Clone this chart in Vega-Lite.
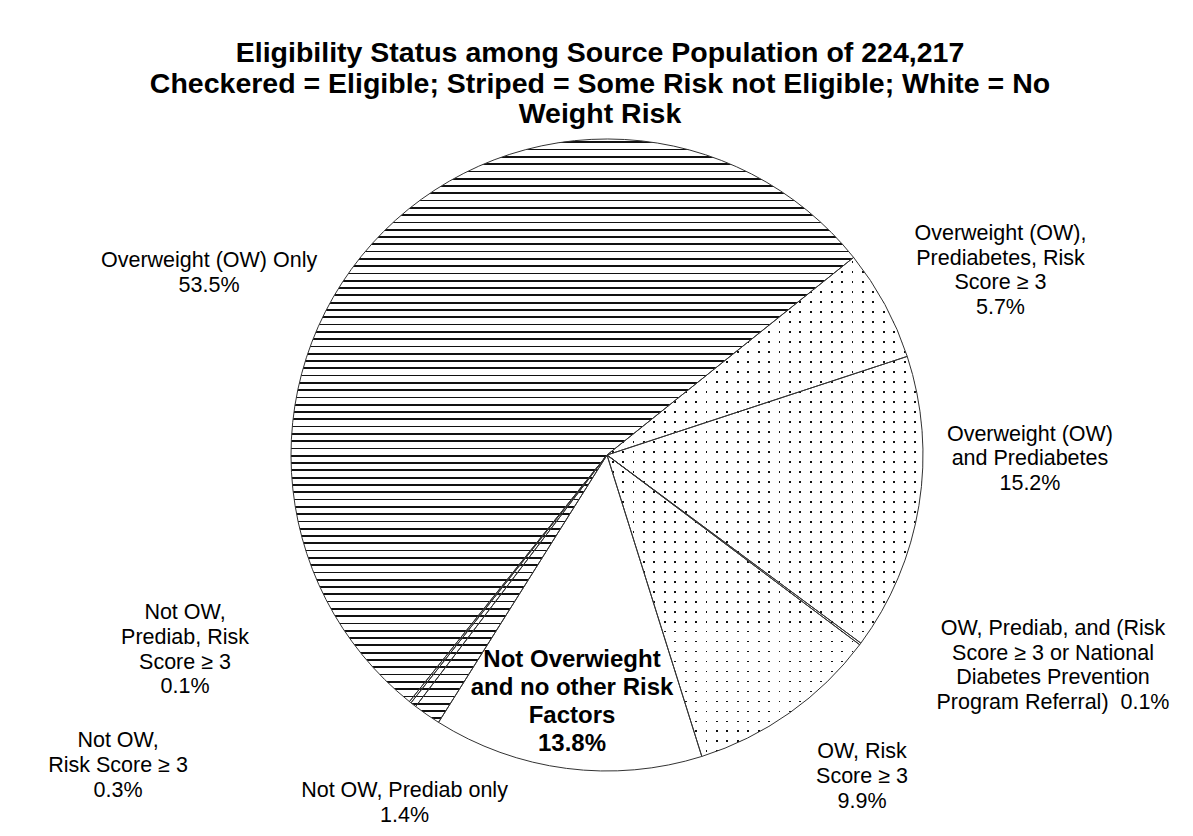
{
  "$schema": "https://vega.github.io/schema/vega-lite/v6.json",
  "width": 632,
  "height": 632,
  "autosize": {"type": "none"},
  "padding": {"left": 291, "top": 139, "right": 270, "bottom": 65},
  "background": "#ffffff",
  "config": {"view": {"stroke": null}, "font": "Liberation Sans"},
  "title": {
    "text": ["Eligibility Status among Source Population of 224,217", "Checkered = Eligible; Striped = Some Risk not Eligible; White = No", "Weight Risk"],
    "font": "Liberation Sans",
    "fontSize": 28.5,
    "fontWeight": "bold",
    "lineHeight": 30.5,
    "color": "#000000",
    "anchor": "middle",
    "offset": 3,
    "dx": -7
  },
  "data": {
    "values": [
      {"idx": 1, "slice": "Overweight (OW), Prediabetes, Risk Score ≥ 3", "pct": 5.7, "group": "Eligible", "label": "Overweight (OW),\nPrediabetes, Risk\nScore ≥ 3\n5.7%"},
      {"idx": 2, "slice": "Overweight (OW) and Prediabetes", "pct": 15.2, "group": "Eligible", "label": "Overweight (OW)\nand Prediabetes\n15.2%"},
      {"idx": 3, "slice": "OW, Prediab, and (Risk Score ≥ 3 or National Diabetes Prevention Program Referral)", "pct": 0.1, "group": "Eligible", "label": "OW, Prediab, and (Risk\nScore ≥ 3 or National\nDiabetes Prevention\nProgram Referral)\u00a0 0.1%"},
      {"idx": 4, "slice": "OW, Risk Score ≥ 3", "pct": 9.9, "group": "Eligible", "label": "OW, Risk\nScore ≥ 3\n9.9%"},
      {"idx": 5, "slice": "Not Overwieght and no other Risk Factors", "pct": 13.8, "group": "No Weight Risk", "label": "Not Overwieght\nand no other Risk\nFactors\n13.8%"},
      {"idx": 6, "slice": "Not OW, Prediab only", "pct": 1.4, "group": "Some Risk not Eligible", "label": "Not OW, Prediab only\n1.4%"},
      {"idx": 7, "slice": "Not OW, Risk Score ≥ 3", "pct": 0.3, "group": "Some Risk not Eligible", "label": "Not OW,\nRisk Score ≥ 3\n0.3%"},
      {"idx": 8, "slice": "Not OW, Prediab, Risk Score ≥ 3", "pct": 0.1, "group": "Some Risk not Eligible", "label": "Not OW,\nPrediab, Risk\nScore ≥ 3\n0.1%"},
      {"idx": 9, "slice": "Overweight (OW) Only", "pct": 53.5, "group": "Some Risk not Eligible", "label": "Overweight (OW) Only\n53.5%"}
    ]
  },
  "encoding": {
    "theta": {"field": "pct", "type": "quantitative", "stack": true, "scale": {"range": [0.89535, 7.17854]}},
    "order": {"field": "idx", "type": "quantitative"}
  },
  "layer": [
    {
      "transform": [{"aggregate": [{"op": "sum", "field": "pct", "as": "pct"}, {"op": "min", "field": "idx", "as": "idx"}], "groupby": ["group"]}],
      "mark": {"type": "arc", "outerRadius": 316, "strokeWidth": 0},
      "encoding": {
        "fill": {
          "condition": [
            {"test": "datum.group === 'Some Risk not Eligible'", "value": {"gradient": "linear", "x1": 0, "y1": 0, "x2": 0, "y2": 1, "stops": [
              {"offset":0.004,"color":"#fff"},{"offset":0.004,"color":"#111"},{"offset":0.007,"color":"#111"},{"offset":0.007,"color":"#fff"},
              {"offset":0.0165,"color":"#fff"},{"offset":0.0165,"color":"#111"},{"offset":0.0195,"color":"#111"},{"offset":0.0195,"color":"#fff"},
              {"offset":0.029,"color":"#fff"},{"offset":0.029,"color":"#111"},{"offset":0.032,"color":"#111"},{"offset":0.032,"color":"#fff"},
              {"offset":0.0415,"color":"#fff"},{"offset":0.0415,"color":"#111"},{"offset":0.0445,"color":"#111"},{"offset":0.0445,"color":"#fff"},
              {"offset":0.054,"color":"#fff"},{"offset":0.054,"color":"#111"},{"offset":0.057,"color":"#111"},{"offset":0.057,"color":"#fff"},
              {"offset":0.0665,"color":"#fff"},{"offset":0.0665,"color":"#111"},{"offset":0.0695,"color":"#111"},{"offset":0.0695,"color":"#fff"},
              {"offset":0.079,"color":"#fff"},{"offset":0.079,"color":"#111"},{"offset":0.082,"color":"#111"},{"offset":0.082,"color":"#fff"},
              {"offset":0.0915,"color":"#fff"},{"offset":0.0915,"color":"#111"},{"offset":0.0945,"color":"#111"},{"offset":0.0945,"color":"#fff"},
              {"offset":0.104,"color":"#fff"},{"offset":0.104,"color":"#111"},{"offset":0.107,"color":"#111"},{"offset":0.107,"color":"#fff"},
              {"offset":0.1165,"color":"#fff"},{"offset":0.1165,"color":"#111"},{"offset":0.1195,"color":"#111"},{"offset":0.1195,"color":"#fff"},
              {"offset":0.129,"color":"#fff"},{"offset":0.129,"color":"#111"},{"offset":0.132,"color":"#111"},{"offset":0.132,"color":"#fff"},
              {"offset":0.1415,"color":"#fff"},{"offset":0.1415,"color":"#111"},{"offset":0.1445,"color":"#111"},{"offset":0.1445,"color":"#fff"},
              {"offset":0.154,"color":"#fff"},{"offset":0.154,"color":"#111"},{"offset":0.157,"color":"#111"},{"offset":0.157,"color":"#fff"},
              {"offset":0.1665,"color":"#fff"},{"offset":0.1665,"color":"#111"},{"offset":0.1695,"color":"#111"},{"offset":0.1695,"color":"#fff"},
              {"offset":0.179,"color":"#fff"},{"offset":0.179,"color":"#111"},{"offset":0.182,"color":"#111"},{"offset":0.182,"color":"#fff"},
              {"offset":0.1915,"color":"#fff"},{"offset":0.1915,"color":"#111"},{"offset":0.1945,"color":"#111"},{"offset":0.1945,"color":"#fff"},
              {"offset":0.204,"color":"#fff"},{"offset":0.204,"color":"#111"},{"offset":0.207,"color":"#111"},{"offset":0.207,"color":"#fff"},
              {"offset":0.2165,"color":"#fff"},{"offset":0.2165,"color":"#111"},{"offset":0.2195,"color":"#111"},{"offset":0.2195,"color":"#fff"},
              {"offset":0.229,"color":"#fff"},{"offset":0.229,"color":"#111"},{"offset":0.232,"color":"#111"},{"offset":0.232,"color":"#fff"},
              {"offset":0.2415,"color":"#fff"},{"offset":0.2415,"color":"#111"},{"offset":0.2445,"color":"#111"},{"offset":0.2445,"color":"#fff"},
              {"offset":0.254,"color":"#fff"},{"offset":0.254,"color":"#111"},{"offset":0.257,"color":"#111"},{"offset":0.257,"color":"#fff"},
              {"offset":0.2665,"color":"#fff"},{"offset":0.2665,"color":"#111"},{"offset":0.2695,"color":"#111"},{"offset":0.2695,"color":"#fff"},
              {"offset":0.279,"color":"#fff"},{"offset":0.279,"color":"#111"},{"offset":0.282,"color":"#111"},{"offset":0.282,"color":"#fff"},
              {"offset":0.2915,"color":"#fff"},{"offset":0.2915,"color":"#111"},{"offset":0.2945,"color":"#111"},{"offset":0.2945,"color":"#fff"},
              {"offset":0.304,"color":"#fff"},{"offset":0.304,"color":"#111"},{"offset":0.307,"color":"#111"},{"offset":0.307,"color":"#fff"},
              {"offset":0.3165,"color":"#fff"},{"offset":0.3165,"color":"#111"},{"offset":0.3195,"color":"#111"},{"offset":0.3195,"color":"#fff"},
              {"offset":0.329,"color":"#fff"},{"offset":0.329,"color":"#111"},{"offset":0.332,"color":"#111"},{"offset":0.332,"color":"#fff"},
              {"offset":0.3415,"color":"#fff"},{"offset":0.3415,"color":"#111"},{"offset":0.3445,"color":"#111"},{"offset":0.3445,"color":"#fff"},
              {"offset":0.354,"color":"#fff"},{"offset":0.354,"color":"#111"},{"offset":0.357,"color":"#111"},{"offset":0.357,"color":"#fff"},
              {"offset":0.3665,"color":"#fff"},{"offset":0.3665,"color":"#111"},{"offset":0.3695,"color":"#111"},{"offset":0.3695,"color":"#fff"},
              {"offset":0.379,"color":"#fff"},{"offset":0.379,"color":"#111"},{"offset":0.382,"color":"#111"},{"offset":0.382,"color":"#fff"},
              {"offset":0.3915,"color":"#fff"},{"offset":0.3915,"color":"#111"},{"offset":0.3945,"color":"#111"},{"offset":0.3945,"color":"#fff"},
              {"offset":0.404,"color":"#fff"},{"offset":0.404,"color":"#111"},{"offset":0.407,"color":"#111"},{"offset":0.407,"color":"#fff"},
              {"offset":0.4165,"color":"#fff"},{"offset":0.4165,"color":"#111"},{"offset":0.4195,"color":"#111"},{"offset":0.4195,"color":"#fff"},
              {"offset":0.429,"color":"#fff"},{"offset":0.429,"color":"#111"},{"offset":0.432,"color":"#111"},{"offset":0.432,"color":"#fff"},
              {"offset":0.4415,"color":"#fff"},{"offset":0.4415,"color":"#111"},{"offset":0.4445,"color":"#111"},{"offset":0.4445,"color":"#fff"},
              {"offset":0.454,"color":"#fff"},{"offset":0.454,"color":"#111"},{"offset":0.457,"color":"#111"},{"offset":0.457,"color":"#fff"},
              {"offset":0.4665,"color":"#fff"},{"offset":0.4665,"color":"#111"},{"offset":0.4695,"color":"#111"},{"offset":0.4695,"color":"#fff"},
              {"offset":0.479,"color":"#fff"},{"offset":0.479,"color":"#111"},{"offset":0.482,"color":"#111"},{"offset":0.482,"color":"#fff"},
              {"offset":0.4915,"color":"#fff"},{"offset":0.4915,"color":"#111"},{"offset":0.4945,"color":"#111"},{"offset":0.4945,"color":"#fff"},
              {"offset":0.504,"color":"#fff"},{"offset":0.504,"color":"#111"},{"offset":0.507,"color":"#111"},{"offset":0.507,"color":"#fff"},
              {"offset":0.5165,"color":"#fff"},{"offset":0.5165,"color":"#111"},{"offset":0.5195,"color":"#111"},{"offset":0.5195,"color":"#fff"},
              {"offset":0.529,"color":"#fff"},{"offset":0.529,"color":"#111"},{"offset":0.532,"color":"#111"},{"offset":0.532,"color":"#fff"},
              {"offset":0.5415,"color":"#fff"},{"offset":0.5415,"color":"#111"},{"offset":0.5445,"color":"#111"},{"offset":0.5445,"color":"#fff"},
              {"offset":0.554,"color":"#fff"},{"offset":0.554,"color":"#111"},{"offset":0.557,"color":"#111"},{"offset":0.557,"color":"#fff"},
              {"offset":0.5665,"color":"#fff"},{"offset":0.5665,"color":"#111"},{"offset":0.5695,"color":"#111"},{"offset":0.5695,"color":"#fff"},
              {"offset":0.579,"color":"#fff"},{"offset":0.579,"color":"#111"},{"offset":0.582,"color":"#111"},{"offset":0.582,"color":"#fff"},
              {"offset":0.5915,"color":"#fff"},{"offset":0.5915,"color":"#111"},{"offset":0.5945,"color":"#111"},{"offset":0.5945,"color":"#fff"},
              {"offset":0.604,"color":"#fff"},{"offset":0.604,"color":"#111"},{"offset":0.607,"color":"#111"},{"offset":0.607,"color":"#fff"},
              {"offset":0.6165,"color":"#fff"},{"offset":0.6165,"color":"#111"},{"offset":0.6195,"color":"#111"},{"offset":0.6195,"color":"#fff"},
              {"offset":0.629,"color":"#fff"},{"offset":0.629,"color":"#111"},{"offset":0.632,"color":"#111"},{"offset":0.632,"color":"#fff"},
              {"offset":0.6415,"color":"#fff"},{"offset":0.6415,"color":"#111"},{"offset":0.6445,"color":"#111"},{"offset":0.6445,"color":"#fff"},
              {"offset":0.654,"color":"#fff"},{"offset":0.654,"color":"#111"},{"offset":0.657,"color":"#111"},{"offset":0.657,"color":"#fff"},
              {"offset":0.6665,"color":"#fff"},{"offset":0.6665,"color":"#111"},{"offset":0.6695,"color":"#111"},{"offset":0.6695,"color":"#fff"},
              {"offset":0.679,"color":"#fff"},{"offset":0.679,"color":"#111"},{"offset":0.682,"color":"#111"},{"offset":0.682,"color":"#fff"},
              {"offset":0.6915,"color":"#fff"},{"offset":0.6915,"color":"#111"},{"offset":0.6945,"color":"#111"},{"offset":0.6945,"color":"#fff"},
              {"offset":0.704,"color":"#fff"},{"offset":0.704,"color":"#111"},{"offset":0.707,"color":"#111"},{"offset":0.707,"color":"#fff"},
              {"offset":0.7165,"color":"#fff"},{"offset":0.7165,"color":"#111"},{"offset":0.7195,"color":"#111"},{"offset":0.7195,"color":"#fff"},
              {"offset":0.729,"color":"#fff"},{"offset":0.729,"color":"#111"},{"offset":0.732,"color":"#111"},{"offset":0.732,"color":"#fff"},
              {"offset":0.7415,"color":"#fff"},{"offset":0.7415,"color":"#111"},{"offset":0.7445,"color":"#111"},{"offset":0.7445,"color":"#fff"},
              {"offset":0.754,"color":"#fff"},{"offset":0.754,"color":"#111"},{"offset":0.757,"color":"#111"},{"offset":0.757,"color":"#fff"},
              {"offset":0.7665,"color":"#fff"},{"offset":0.7665,"color":"#111"},{"offset":0.7695,"color":"#111"},{"offset":0.7695,"color":"#fff"},
              {"offset":0.779,"color":"#fff"},{"offset":0.779,"color":"#111"},{"offset":0.782,"color":"#111"},{"offset":0.782,"color":"#fff"},
              {"offset":0.7915,"color":"#fff"},{"offset":0.7915,"color":"#111"},{"offset":0.7945,"color":"#111"},{"offset":0.7945,"color":"#fff"},
              {"offset":0.804,"color":"#fff"},{"offset":0.804,"color":"#111"},{"offset":0.807,"color":"#111"},{"offset":0.807,"color":"#fff"},
              {"offset":0.8165,"color":"#fff"},{"offset":0.8165,"color":"#111"},{"offset":0.8195,"color":"#111"},{"offset":0.8195,"color":"#fff"},
              {"offset":0.829,"color":"#fff"},{"offset":0.829,"color":"#111"},{"offset":0.832,"color":"#111"},{"offset":0.832,"color":"#fff"},
              {"offset":0.8415,"color":"#fff"},{"offset":0.8415,"color":"#111"},{"offset":0.8445,"color":"#111"},{"offset":0.8445,"color":"#fff"},
              {"offset":0.854,"color":"#fff"},{"offset":0.854,"color":"#111"},{"offset":0.857,"color":"#111"},{"offset":0.857,"color":"#fff"},
              {"offset":0.8665,"color":"#fff"},{"offset":0.8665,"color":"#111"},{"offset":0.8695,"color":"#111"},{"offset":0.8695,"color":"#fff"},
              {"offset":0.879,"color":"#fff"},{"offset":0.879,"color":"#111"},{"offset":0.882,"color":"#111"},{"offset":0.882,"color":"#fff"},
              {"offset":0.8915,"color":"#fff"},{"offset":0.8915,"color":"#111"},{"offset":0.8945,"color":"#111"},{"offset":0.8945,"color":"#fff"},
              {"offset":0.904,"color":"#fff"},{"offset":0.904,"color":"#111"},{"offset":0.907,"color":"#111"},{"offset":0.907,"color":"#fff"},
              {"offset":0.9165,"color":"#fff"},{"offset":0.9165,"color":"#111"},{"offset":0.9195,"color":"#111"},{"offset":0.9195,"color":"#fff"},
              {"offset":0.929,"color":"#fff"},{"offset":0.929,"color":"#111"},{"offset":0.932,"color":"#111"},{"offset":0.932,"color":"#fff"},
              {"offset":0.9415,"color":"#fff"},{"offset":0.9415,"color":"#111"},{"offset":0.9445,"color":"#111"},{"offset":0.9445,"color":"#fff"},
              {"offset":0.954,"color":"#fff"},{"offset":0.954,"color":"#111"},{"offset":0.957,"color":"#111"},{"offset":0.957,"color":"#fff"},
              {"offset":0.9665,"color":"#fff"},{"offset":0.9665,"color":"#111"},{"offset":0.9695,"color":"#111"},{"offset":0.9695,"color":"#fff"},
              {"offset":0.979,"color":"#fff"},{"offset":0.979,"color":"#111"},{"offset":0.982,"color":"#111"},{"offset":0.982,"color":"#fff"},
              {"offset":0.9915,"color":"#fff"},{"offset":0.9915,"color":"#111"},{"offset":0.9945,"color":"#111"},{"offset":0.9945,"color":"#fff"}
            ]}},
            {"test": "datum.group === 'Eligible'", "value": {"gradient": "linear", "x1": 0, "y1": 0, "x2": 0, "y2": 1, "stops": [
              {"offset":0.008,"color":"#fff"},{"offset":0.008,"color":"#111"},{"offset":0.0116,"color":"#111"},{"offset":0.0116,"color":"#fff"},
              {"offset":0.028,"color":"#fff"},{"offset":0.028,"color":"#111"},{"offset":0.0316,"color":"#111"},{"offset":0.0316,"color":"#fff"},
              {"offset":0.048,"color":"#fff"},{"offset":0.048,"color":"#111"},{"offset":0.0516,"color":"#111"},{"offset":0.0516,"color":"#fff"},
              {"offset":0.068,"color":"#fff"},{"offset":0.068,"color":"#111"},{"offset":0.0716,"color":"#111"},{"offset":0.0716,"color":"#fff"},
              {"offset":0.088,"color":"#fff"},{"offset":0.088,"color":"#111"},{"offset":0.0916,"color":"#111"},{"offset":0.0916,"color":"#fff"},
              {"offset":0.108,"color":"#fff"},{"offset":0.108,"color":"#111"},{"offset":0.1116,"color":"#111"},{"offset":0.1116,"color":"#fff"},
              {"offset":0.128,"color":"#fff"},{"offset":0.128,"color":"#111"},{"offset":0.1316,"color":"#111"},{"offset":0.1316,"color":"#fff"},
              {"offset":0.148,"color":"#fff"},{"offset":0.148,"color":"#111"},{"offset":0.1516,"color":"#111"},{"offset":0.1516,"color":"#fff"},
              {"offset":0.168,"color":"#fff"},{"offset":0.168,"color":"#111"},{"offset":0.1716,"color":"#111"},{"offset":0.1716,"color":"#fff"},
              {"offset":0.188,"color":"#fff"},{"offset":0.188,"color":"#111"},{"offset":0.1916,"color":"#111"},{"offset":0.1916,"color":"#fff"},
              {"offset":0.208,"color":"#fff"},{"offset":0.208,"color":"#111"},{"offset":0.2116,"color":"#111"},{"offset":0.2116,"color":"#fff"},
              {"offset":0.228,"color":"#fff"},{"offset":0.228,"color":"#111"},{"offset":0.2316,"color":"#111"},{"offset":0.2316,"color":"#fff"},
              {"offset":0.248,"color":"#fff"},{"offset":0.248,"color":"#111"},{"offset":0.2516,"color":"#111"},{"offset":0.2516,"color":"#fff"},
              {"offset":0.268,"color":"#fff"},{"offset":0.268,"color":"#111"},{"offset":0.2716,"color":"#111"},{"offset":0.2716,"color":"#fff"},
              {"offset":0.288,"color":"#fff"},{"offset":0.288,"color":"#111"},{"offset":0.2916,"color":"#111"},{"offset":0.2916,"color":"#fff"},
              {"offset":0.308,"color":"#fff"},{"offset":0.308,"color":"#111"},{"offset":0.3116,"color":"#111"},{"offset":0.3116,"color":"#fff"},
              {"offset":0.328,"color":"#fff"},{"offset":0.328,"color":"#111"},{"offset":0.3316,"color":"#111"},{"offset":0.3316,"color":"#fff"},
              {"offset":0.348,"color":"#fff"},{"offset":0.348,"color":"#111"},{"offset":0.3516,"color":"#111"},{"offset":0.3516,"color":"#fff"},
              {"offset":0.368,"color":"#fff"},{"offset":0.368,"color":"#111"},{"offset":0.3716,"color":"#111"},{"offset":0.3716,"color":"#fff"},
              {"offset":0.388,"color":"#fff"},{"offset":0.388,"color":"#111"},{"offset":0.3916,"color":"#111"},{"offset":0.3916,"color":"#fff"},
              {"offset":0.408,"color":"#fff"},{"offset":0.408,"color":"#111"},{"offset":0.4116,"color":"#111"},{"offset":0.4116,"color":"#fff"},
              {"offset":0.428,"color":"#fff"},{"offset":0.428,"color":"#111"},{"offset":0.4316,"color":"#111"},{"offset":0.4316,"color":"#fff"},
              {"offset":0.448,"color":"#fff"},{"offset":0.448,"color":"#111"},{"offset":0.4516,"color":"#111"},{"offset":0.4516,"color":"#fff"},
              {"offset":0.468,"color":"#fff"},{"offset":0.468,"color":"#111"},{"offset":0.4716,"color":"#111"},{"offset":0.4716,"color":"#fff"},
              {"offset":0.488,"color":"#fff"},{"offset":0.488,"color":"#111"},{"offset":0.4916,"color":"#111"},{"offset":0.4916,"color":"#fff"},
              {"offset":0.508,"color":"#fff"},{"offset":0.508,"color":"#111"},{"offset":0.5116,"color":"#111"},{"offset":0.5116,"color":"#fff"},
              {"offset":0.528,"color":"#fff"},{"offset":0.528,"color":"#111"},{"offset":0.5316,"color":"#111"},{"offset":0.5316,"color":"#fff"},
              {"offset":0.548,"color":"#fff"},{"offset":0.548,"color":"#111"},{"offset":0.5516,"color":"#111"},{"offset":0.5516,"color":"#fff"},
              {"offset":0.568,"color":"#fff"},{"offset":0.568,"color":"#111"},{"offset":0.5716,"color":"#111"},{"offset":0.5716,"color":"#fff"},
              {"offset":0.588,"color":"#fff"},{"offset":0.588,"color":"#111"},{"offset":0.5916,"color":"#111"},{"offset":0.5916,"color":"#fff"},
              {"offset":0.608,"color":"#fff"},{"offset":0.608,"color":"#111"},{"offset":0.6116,"color":"#111"},{"offset":0.6116,"color":"#fff"},
              {"offset":0.628,"color":"#fff"},{"offset":0.628,"color":"#111"},{"offset":0.6316,"color":"#111"},{"offset":0.6316,"color":"#fff"},
              {"offset":0.648,"color":"#fff"},{"offset":0.648,"color":"#111"},{"offset":0.6516,"color":"#111"},{"offset":0.6516,"color":"#fff"},
              {"offset":0.668,"color":"#fff"},{"offset":0.668,"color":"#111"},{"offset":0.6716,"color":"#111"},{"offset":0.6716,"color":"#fff"},
              {"offset":0.688,"color":"#fff"},{"offset":0.688,"color":"#111"},{"offset":0.6916,"color":"#111"},{"offset":0.6916,"color":"#fff"},
              {"offset":0.708,"color":"#fff"},{"offset":0.708,"color":"#111"},{"offset":0.7116,"color":"#111"},{"offset":0.7116,"color":"#fff"},
              {"offset":0.728,"color":"#fff"},{"offset":0.728,"color":"#111"},{"offset":0.7316,"color":"#111"},{"offset":0.7316,"color":"#fff"},
              {"offset":0.748,"color":"#fff"},{"offset":0.748,"color":"#111"},{"offset":0.7516,"color":"#111"},{"offset":0.7516,"color":"#fff"},
              {"offset":0.768,"color":"#fff"},{"offset":0.768,"color":"#111"},{"offset":0.7716,"color":"#111"},{"offset":0.7716,"color":"#fff"},
              {"offset":0.788,"color":"#fff"},{"offset":0.788,"color":"#111"},{"offset":0.7916,"color":"#111"},{"offset":0.7916,"color":"#fff"},
              {"offset":0.808,"color":"#fff"},{"offset":0.808,"color":"#111"},{"offset":0.8116,"color":"#111"},{"offset":0.8116,"color":"#fff"},
              {"offset":0.828,"color":"#fff"},{"offset":0.828,"color":"#111"},{"offset":0.8316,"color":"#111"},{"offset":0.8316,"color":"#fff"},
              {"offset":0.848,"color":"#fff"},{"offset":0.848,"color":"#111"},{"offset":0.8516,"color":"#111"},{"offset":0.8516,"color":"#fff"},
              {"offset":0.868,"color":"#fff"},{"offset":0.868,"color":"#111"},{"offset":0.8716,"color":"#111"},{"offset":0.8716,"color":"#fff"},
              {"offset":0.888,"color":"#fff"},{"offset":0.888,"color":"#111"},{"offset":0.8916,"color":"#111"},{"offset":0.8916,"color":"#fff"},
              {"offset":0.908,"color":"#fff"},{"offset":0.908,"color":"#111"},{"offset":0.9116,"color":"#111"},{"offset":0.9116,"color":"#fff"},
              {"offset":0.928,"color":"#fff"},{"offset":0.928,"color":"#111"},{"offset":0.9316,"color":"#111"},{"offset":0.9316,"color":"#fff"},
              {"offset":0.948,"color":"#fff"},{"offset":0.948,"color":"#111"},{"offset":0.9516,"color":"#111"},{"offset":0.9516,"color":"#fff"},
              {"offset":0.968,"color":"#fff"},{"offset":0.968,"color":"#111"},{"offset":0.9716,"color":"#111"},{"offset":0.9716,"color":"#fff"},
              {"offset":0.988,"color":"#fff"},{"offset":0.988,"color":"#111"},{"offset":0.9916,"color":"#111"},{"offset":0.9916,"color":"#fff"}
            ]}}
          ],
          "value": "#ffffff"
        }
      }
    },
    {
      "transform": [{"aggregate": [{"op": "sum", "field": "pct", "as": "pct"}, {"op": "min", "field": "idx", "as": "idx"}], "groupby": ["group"]}],
      "mark": {"type": "arc", "outerRadius": 316, "strokeWidth": 0},
      "encoding": {
        "fill": {
          "condition": {"test": "datum.group === 'Eligible'", "value": {"gradient": "linear", "x1": 0, "y1": 0, "x2": 1, "y2": 0, "stops": [
            {"offset":0.015,"color":"#fff"},{"offset":0.015,"color":"rgba(255,255,255,0)"},{"offset":0.0207,"color":"rgba(255,255,255,0)"},{"offset":0.0207,"color":"#fff"},
            {"offset":0.048,"color":"#fff"},{"offset":0.048,"color":"rgba(255,255,255,0)"},{"offset":0.0537,"color":"rgba(255,255,255,0)"},{"offset":0.0537,"color":"#fff"},
            {"offset":0.081,"color":"#fff"},{"offset":0.081,"color":"rgba(255,255,255,0)"},{"offset":0.0867,"color":"rgba(255,255,255,0)"},{"offset":0.0867,"color":"#fff"},
            {"offset":0.114,"color":"#fff"},{"offset":0.114,"color":"rgba(255,255,255,0)"},{"offset":0.1197,"color":"rgba(255,255,255,0)"},{"offset":0.1197,"color":"#fff"},
            {"offset":0.147,"color":"#fff"},{"offset":0.147,"color":"rgba(255,255,255,0)"},{"offset":0.1527,"color":"rgba(255,255,255,0)"},{"offset":0.1527,"color":"#fff"},
            {"offset":0.18,"color":"#fff"},{"offset":0.18,"color":"rgba(255,255,255,0)"},{"offset":0.1857,"color":"rgba(255,255,255,0)"},{"offset":0.1857,"color":"#fff"},
            {"offset":0.213,"color":"#fff"},{"offset":0.213,"color":"rgba(255,255,255,0)"},{"offset":0.2187,"color":"rgba(255,255,255,0)"},{"offset":0.2187,"color":"#fff"},
            {"offset":0.246,"color":"#fff"},{"offset":0.246,"color":"rgba(255,255,255,0)"},{"offset":0.2517,"color":"rgba(255,255,255,0)"},{"offset":0.2517,"color":"#fff"},
            {"offset":0.279,"color":"#fff"},{"offset":0.279,"color":"rgba(255,255,255,0)"},{"offset":0.2847,"color":"rgba(255,255,255,0)"},{"offset":0.2847,"color":"#fff"},
            {"offset":0.312,"color":"#fff"},{"offset":0.312,"color":"rgba(255,255,255,0)"},{"offset":0.3177,"color":"rgba(255,255,255,0)"},{"offset":0.3177,"color":"#fff"},
            {"offset":0.345,"color":"#fff"},{"offset":0.345,"color":"rgba(255,255,255,0)"},{"offset":0.3507,"color":"rgba(255,255,255,0)"},{"offset":0.3507,"color":"#fff"},
            {"offset":0.378,"color":"#fff"},{"offset":0.378,"color":"rgba(255,255,255,0)"},{"offset":0.3837,"color":"rgba(255,255,255,0)"},{"offset":0.3837,"color":"#fff"},
            {"offset":0.411,"color":"#fff"},{"offset":0.411,"color":"rgba(255,255,255,0)"},{"offset":0.4167,"color":"rgba(255,255,255,0)"},{"offset":0.4167,"color":"#fff"},
            {"offset":0.444,"color":"#fff"},{"offset":0.444,"color":"rgba(255,255,255,0)"},{"offset":0.4497,"color":"rgba(255,255,255,0)"},{"offset":0.4497,"color":"#fff"},
            {"offset":0.477,"color":"#fff"},{"offset":0.477,"color":"rgba(255,255,255,0)"},{"offset":0.4827,"color":"rgba(255,255,255,0)"},{"offset":0.4827,"color":"#fff"},
            {"offset":0.51,"color":"#fff"},{"offset":0.51,"color":"rgba(255,255,255,0)"},{"offset":0.5157,"color":"rgba(255,255,255,0)"},{"offset":0.5157,"color":"#fff"},
            {"offset":0.543,"color":"#fff"},{"offset":0.543,"color":"rgba(255,255,255,0)"},{"offset":0.5487,"color":"rgba(255,255,255,0)"},{"offset":0.5487,"color":"#fff"},
            {"offset":0.576,"color":"#fff"},{"offset":0.576,"color":"rgba(255,255,255,0)"},{"offset":0.5817,"color":"rgba(255,255,255,0)"},{"offset":0.5817,"color":"#fff"},
            {"offset":0.609,"color":"#fff"},{"offset":0.609,"color":"rgba(255,255,255,0)"},{"offset":0.6147,"color":"rgba(255,255,255,0)"},{"offset":0.6147,"color":"#fff"},
            {"offset":0.642,"color":"#fff"},{"offset":0.642,"color":"rgba(255,255,255,0)"},{"offset":0.6477,"color":"rgba(255,255,255,0)"},{"offset":0.6477,"color":"#fff"},
            {"offset":0.675,"color":"#fff"},{"offset":0.675,"color":"rgba(255,255,255,0)"},{"offset":0.6807,"color":"rgba(255,255,255,0)"},{"offset":0.6807,"color":"#fff"},
            {"offset":0.708,"color":"#fff"},{"offset":0.708,"color":"rgba(255,255,255,0)"},{"offset":0.7137,"color":"rgba(255,255,255,0)"},{"offset":0.7137,"color":"#fff"},
            {"offset":0.741,"color":"#fff"},{"offset":0.741,"color":"rgba(255,255,255,0)"},{"offset":0.7467,"color":"rgba(255,255,255,0)"},{"offset":0.7467,"color":"#fff"},
            {"offset":0.774,"color":"#fff"},{"offset":0.774,"color":"rgba(255,255,255,0)"},{"offset":0.7797,"color":"rgba(255,255,255,0)"},{"offset":0.7797,"color":"#fff"},
            {"offset":0.807,"color":"#fff"},{"offset":0.807,"color":"rgba(255,255,255,0)"},{"offset":0.8127,"color":"rgba(255,255,255,0)"},{"offset":0.8127,"color":"#fff"},
            {"offset":0.84,"color":"#fff"},{"offset":0.84,"color":"rgba(255,255,255,0)"},{"offset":0.8457,"color":"rgba(255,255,255,0)"},{"offset":0.8457,"color":"#fff"},
            {"offset":0.873,"color":"#fff"},{"offset":0.873,"color":"rgba(255,255,255,0)"},{"offset":0.8787,"color":"rgba(255,255,255,0)"},{"offset":0.8787,"color":"#fff"},
            {"offset":0.906,"color":"#fff"},{"offset":0.906,"color":"rgba(255,255,255,0)"},{"offset":0.9117,"color":"rgba(255,255,255,0)"},{"offset":0.9117,"color":"#fff"},
            {"offset":0.939,"color":"#fff"},{"offset":0.939,"color":"rgba(255,255,255,0)"},{"offset":0.9447,"color":"rgba(255,255,255,0)"},{"offset":0.9447,"color":"#fff"},
            {"offset":0.972,"color":"#fff"},{"offset":0.972,"color":"rgba(255,255,255,0)"},{"offset":0.9777,"color":"rgba(255,255,255,0)"},{"offset":0.9777,"color":"#fff"}
          ]}},
          "value": "transparent"
        }
      }
    },
    {
      "mark": {"type": "arc", "outerRadius": 316, "fill": "#ffffff", "fillOpacity": 0, "stroke": "#333333", "strokeWidth": 1, "strokeJoin": "round"}
    },
    {
      "mark": {"type": "text", "radius": 316, "dx": -174.5, "dy": 35.5, "align": "center", "baseline": "alphabetic", "font": "Liberation Sans", "fontSize": 21.5, "lineHeight": 24.7, "lineBreak": "\n", "fill": "#000000"},
      "encoding": {"text": {"condition": {"test": "datum.idx === 9", "field": "label", "type": "nominal"}, "value": ""}}
    },
    {
      "mark": {"type": "text", "radius": 316, "dx": 115.6, "dy": -64.5, "align": "center", "baseline": "alphabetic", "font": "Liberation Sans", "fontSize": 21.5, "lineHeight": 24.7, "lineBreak": "\n", "fill": "#000000"},
      "encoding": {"text": {"condition": {"test": "datum.idx === 1", "field": "label", "type": "nominal"}, "value": ""}}
    },
    {
      "mark": {"type": "text", "radius": 316, "dx": 111, "dy": -64.7, "align": "center", "baseline": "alphabetic", "font": "Liberation Sans", "fontSize": 21.5, "lineHeight": 24.7, "lineBreak": "\n", "fill": "#000000"},
      "encoding": {"text": {"condition": {"test": "datum.idx === 2", "field": "label", "type": "nominal"}, "value": ""}}
    },
    {
      "mark": {"type": "text", "radius": 316, "dx": 192.7, "dy": -9, "align": "center", "baseline": "alphabetic", "font": "Liberation Sans", "fontSize": 21.5, "lineHeight": 24.7, "lineBreak": "\n", "fill": "#000000"},
      "encoding": {"text": {"condition": {"test": "datum.idx === 3", "field": "label", "type": "nominal"}, "value": ""}}
    },
    {
      "mark": {"type": "text", "radius": 316, "dx": 72.5, "dy": 45.5, "align": "center", "baseline": "alphabetic", "font": "Liberation Sans", "fontSize": 21.5, "lineHeight": 24.7, "lineBreak": "\n", "fill": "#000000"},
      "encoding": {"text": {"condition": {"test": "datum.idx === 4", "field": "label", "type": "nominal"}, "value": ""}}
    },
    {
      "mark": {"type": "text", "radius": 215, "dx": -7.4, "dy": -1, "align": "center", "baseline": "alphabetic", "font": "Liberation Sans", "fontSize": 24, "fontWeight": "bold", "lineHeight": 28, "lineBreak": "\n", "fill": "#000000"},
      "encoding": {"text": {"condition": {"test": "datum.idx === 5", "field": "label", "type": "nominal"}, "value": ""}}
    },
    {
      "mark": {"type": "text", "radius": 316, "dx": -22.4, "dy": 82.6, "align": "center", "baseline": "alphabetic", "font": "Liberation Sans", "fontSize": 21.5, "lineHeight": 24.7, "lineBreak": "\n", "fill": "#000000"},
      "encoding": {"text": {"condition": {"test": "datum.idx === 6", "field": "label", "type": "nominal"}, "value": ""}}
    },
    {
      "mark": {"type": "text", "radius": 316, "dx": -295.3, "dy": 42.8, "align": "center", "baseline": "alphabetic", "font": "Liberation Sans", "fontSize": 21.5, "lineHeight": 24.7, "lineBreak": "\n", "fill": "#000000"},
      "encoding": {"text": {"condition": {"test": "datum.idx === 7", "field": "label", "type": "nominal"}, "value": ""}}
    },
    {
      "mark": {"type": "text", "radius": 316, "dx": -225.2, "dy": -82.9, "align": "center", "baseline": "alphabetic", "font": "Liberation Sans", "fontSize": 21.5, "lineHeight": 24.7, "lineBreak": "\n", "fill": "#000000"},
      "encoding": {"text": {"condition": {"test": "datum.idx === 8", "field": "label", "type": "nominal"}, "value": ""}}
    }
  ]
}
